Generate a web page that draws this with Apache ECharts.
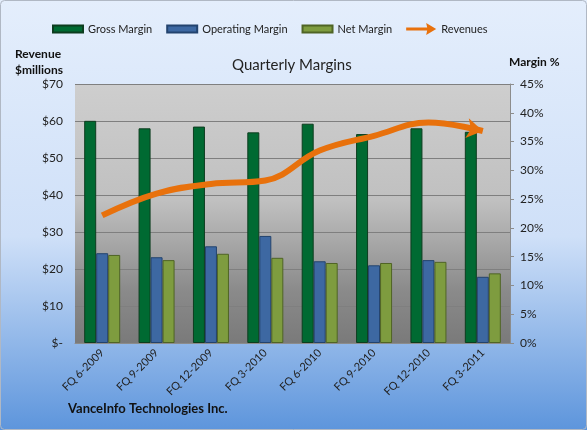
<!DOCTYPE html>
<html>
<head>
<meta charset="utf-8">
<script src="https://cdn.jsdelivr.net/npm/echarts@6/dist/echarts.min.js"></script>
<style>
  html, body { margin: 0; padding: 0; }
  #main { width: 587px; height: 430px; }
</style>
</head>
<body>
<div id="main"></div>
<script>
var quarters = ['FQ 6-2009', 'FQ 9-2009', 'FQ 12-2009', 'FQ 3-2010', 'FQ 6-2010', 'FQ 9-2010', 'FQ 12-2010', 'FQ 3-2011'];
var grossMargin = [38.6, 37.3, 37.6, 36.6, 38.1, 36.3, 37.3, 36.7];
var operatingMargin = [15.6, 14.9, 16.8, 18.6, 14.2, 13.5, 14.4, 11.5];
var netMargin = [15.3, 14.4, 15.5, 14.8, 13.9, 13.9, 14.1, 12.1];
var revenues = [34.5, 40.4, 43.0, 43.9, 52.0, 56.0, 59.6, 57.3];

var fontName = 'Lato';
var rectIcon = 'path://M0,0 L30,0 L30,7 L0,7 Z';
var arrowIcon = 'path://M0,4.5 L21,4.5 L20,0 L30,6 L20,12 L21,7.5 L0,7.5 Z';

// last revenue point gets the arrow head
var revData = revenues.map(function (v, i) {
  if (i === revenues.length - 1) {
    return { value: v, symbol: 'arrow', symbolSize: [15, 16], symbolRotate: -100 };
  }
  return v;
});

var dom = document.getElementById('main');
var myChart = echarts.init(dom);

var option = {
  backgroundColor: new echarts.graphic.LinearGradient(0, 0, 0, 1, [
    { offset: 0, color: '#e4eefc' },
    { offset: 0.55, color: '#cfe0f8' },
    { offset: 1, color: '#5d95dc' }
  ]),
  textStyle: { fontFamily: fontName },
  title: {
    text: 'Quarterly Margins',
    left: 227,
    top: 53,
    textStyle: { fontFamily: fontName, fontSize: 15, fontWeight: 'normal', color: '#222' }
  },
  legend: {
    left: 47,
    top: 18,
    itemWidth: 30,
    itemHeight: 12,
    itemGap: 14,
    textStyle: { fontFamily: fontName, fontSize: 11, color: '#222' },
    data: [
      { name: 'Gross Margin', icon: rectIcon },
      { name: 'Operating Margin', icon: rectIcon },
      { name: 'Net Margin', icon: rectIcon },
      { name: 'Revenues', icon: arrowIcon }
    ]
  },
  graphic: [
    {
      type: 'rect',
      shape: { x: 0.5, y: 0.5, width: 586, height: 429, r: 4 },
      style: { fill: 'none', stroke: '#b0b8c4', lineWidth: 1 }
    },
    {
      type: 'text', left: 15, top: 46,
      style: { text: 'Revenue\n$millions', font: 'bold 12px Lato', fill: '#111', lineHeight: 16 }
    },
    {
      type: 'text', left: 509, top: 56,
      style: { text: 'Margin %', font: 'bold 12px Lato', fill: '#111' }
    },
    {
      type: 'text', left: 68, top: 402,
      style: { text: 'VanceInfo Technologies Inc.', font: 'bold 13px Lato', fill: '#111' }
    }
  ],
  grid: {
    left: 75,
    right: 77,
    top: 84,
    bottom: 87,
    show: true,
    borderWidth: 0,
    backgroundColor: new echarts.graphic.LinearGradient(0, 0, 0, 1, [
      { offset: 0, color: '#cecece' },
      { offset: 0.45, color: '#c0c0c0' },
      { offset: 0.8, color: '#8a8a8a' },
      { offset: 1, color: '#7a7a7a' }
    ])
  },
  xAxis: {
    type: 'category',
    data: quarters,
    axisLine: { lineStyle: { color: '#8c8c8c', width: 1 } },
    axisTick: { show: false },
    axisLabel: { rotate: 45, fontFamily: fontName, fontSize: 11, color: '#222', margin: 8 }
  },
  yAxis: [
    {
      type: 'value',
      min: 0,
      max: 70,
      interval: 10,
      position: 'left',
      axisLine: { show: false },
      axisTick: { show: false },
      splitLine: { lineStyle: { color: '#7f7f7f', width: 1 } },
      axisLabel: {
        fontFamily: fontName, fontSize: 12, color: '#222', margin: 12,
        formatter: function (v) { return v === 0 ? '$-' : '$' + v; }
      }
    },
    {
      type: 'value',
      min: 0,
      max: 45,
      interval: 5,
      position: 'right',
      axisLine: { show: true, lineStyle: { color: '#8c8c8c' } },
      axisTick: { show: true, length: 4, lineStyle: { color: '#8c8c8c' } },
      splitLine: { show: false },
      axisLabel: { fontFamily: fontName, fontSize: 12, color: '#222', margin: 10, formatter: '{value}%' }
    }
  ],
  series: [
    {
      name: 'Gross Margin',
      type: 'bar',
      yAxisIndex: 1,
      data: grossMargin,
      barWidth: 12,
      barGap: '0%',
      itemStyle: { color: '#006a32', borderColor: '#0d3d1f', borderWidth: 1 }
    },
    {
      name: 'Operating Margin',
      type: 'bar',
      yAxisIndex: 1,
      data: operatingMargin,
      barWidth: 12,
      barGap: '0%',
      itemStyle: { color: '#3d68a2', borderColor: '#23436e', borderWidth: 1 }
    },
    {
      name: 'Net Margin',
      type: 'bar',
      yAxisIndex: 1,
      data: netMargin,
      barWidth: 12,
      barGap: '0%',
      itemStyle: { color: '#7e9c3f', borderColor: '#4f6425', borderWidth: 1 }
    },
    {
      name: 'Revenues',
      type: 'line',
      yAxisIndex: 0,
      data: revData,
      smooth: 0.4,
      symbol: 'none',
      z: 5,
      lineStyle: { color: '#e8710c', width: 6 },
      itemStyle: { color: '#e8710c' }
    }
  ]
};

myChart.setOption(option);
</script>
</body>
</html>
